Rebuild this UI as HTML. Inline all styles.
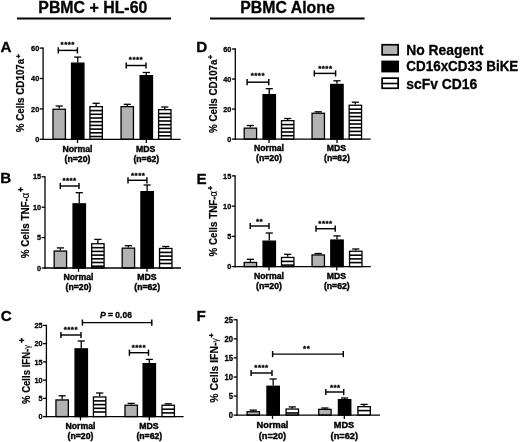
<!DOCTYPE html>
<html><head><meta charset="utf-8"><title>Figure</title>
<style>
html,body{margin:0;padding:0;background:#fff;}
svg{display:block;font-family:"Liberation Sans",sans-serif;}
text{stroke:#000;stroke-width:0.3px;}
</style></head>
<body>
<svg width="520" height="442" viewBox="0 0 520 442">
<rect width="520" height="442" fill="#fff"/>
<text x="92.8" y="12.5" font-size="15.8" text-anchor="middle" font-weight="bold" textLength="109" lengthAdjust="spacingAndGlyphs" >PBMC + HL-60</text>
<line x1="17" y1="18.4" x2="171" y2="18.4" stroke="#000" stroke-width="2" stroke-linecap="butt"/>
<text x="287.5" y="12.6" font-size="15.8" text-anchor="middle" font-weight="bold" textLength="94.5" lengthAdjust="spacingAndGlyphs" >PBMC Alone</text>
<line x1="210" y1="18.4" x2="364.6" y2="18.4" stroke="#000" stroke-width="2" stroke-linecap="butt"/>
<text x="0.6" y="52.2" font-size="15.2" text-anchor="start" font-weight="bold" >A</text>
<line x1="43.1" y1="47.45" x2="43.1" y2="139.95000000000002" stroke="#000" stroke-width="1.3" stroke-linecap="butt"/>
<line x1="39.7" y1="139.3" x2="43.1" y2="139.3" stroke="#000" stroke-width="1.3" stroke-linecap="butt"/>
<g transform="translate(39.2,141.95000000000002) scale(0.91,1)">
<text x="0" y="0" font-size="8.0" text-anchor="end" font-weight="bold" >0</text>
</g>
<line x1="39.7" y1="108.9" x2="43.1" y2="108.9" stroke="#000" stroke-width="1.3" stroke-linecap="butt"/>
<g transform="translate(39.2,111.55000000000001) scale(0.91,1)">
<text x="0" y="0" font-size="8.0" text-anchor="end" font-weight="bold" >20</text>
</g>
<line x1="39.7" y1="78.5" x2="43.1" y2="78.5" stroke="#000" stroke-width="1.3" stroke-linecap="butt"/>
<g transform="translate(39.2,81.15) scale(0.91,1)">
<text x="0" y="0" font-size="8.0" text-anchor="end" font-weight="bold" >40</text>
</g>
<line x1="39.7" y1="48.10000000000001" x2="43.1" y2="48.10000000000001" stroke="#000" stroke-width="1.3" stroke-linecap="butt"/>
<g transform="translate(39.2,50.75000000000001) scale(0.91,1)">
<text x="0" y="0" font-size="8.0" text-anchor="end" font-weight="bold" >60</text>
</g>
<g transform="translate(24.3,93.3) rotate(-90) scale(0.9000,1)">
<text x="0" y="0" font-size="10.9" text-anchor="middle" font-weight="bold" style="stroke-width:0.2px">% Cells CD107a<tspan dy="-3.7" dx="0.5" font-size="7.6" style="stroke-width:0.5px">+</tspan></text>
</g>
<line x1="59.2" y1="108.6" x2="59.2" y2="106" stroke="#000" stroke-width="1.3" stroke-linecap="butt"/>
<line x1="55.6" y1="106" x2="62.800000000000004" y2="106" stroke="#000" stroke-width="1.3" stroke-linecap="butt"/>
<rect x="53.00" y="109.25" width="12.40" height="30.05" fill="#b2b2b2" stroke="#000" stroke-width="1.3"/>
<line x1="77.75" y1="62.5" x2="77.75" y2="57.1" stroke="#000" stroke-width="1.3" stroke-linecap="butt"/>
<line x1="74.15" y1="57.1" x2="81.35" y2="57.1" stroke="#000" stroke-width="1.3" stroke-linecap="butt"/>
<rect x="71.55" y="63.15" width="12.40" height="76.15" fill="#000" stroke="#000" stroke-width="1.3"/>
<line x1="96.15" y1="106" x2="96.15" y2="103.3" stroke="#000" stroke-width="1.3" stroke-linecap="butt"/>
<line x1="92.55000000000001" y1="103.3" x2="99.75" y2="103.3" stroke="#000" stroke-width="1.3" stroke-linecap="butt"/>
<rect x="89.95" y="106.65" width="12.40" height="32.65" fill="#fff" stroke="#000" stroke-width="1.3"/>
<line x1="89.80000000000001" y1="110.6" x2="102.5" y2="110.6" stroke="#000" stroke-width="1.6" stroke-linecap="butt"/>
<line x1="89.80000000000001" y1="114.3" x2="102.5" y2="114.3" stroke="#000" stroke-width="1.6" stroke-linecap="butt"/>
<line x1="89.80000000000001" y1="118.0" x2="102.5" y2="118.0" stroke="#000" stroke-width="1.6" stroke-linecap="butt"/>
<line x1="89.80000000000001" y1="121.7" x2="102.5" y2="121.7" stroke="#000" stroke-width="1.6" stroke-linecap="butt"/>
<line x1="89.80000000000001" y1="125.4" x2="102.5" y2="125.4" stroke="#000" stroke-width="1.6" stroke-linecap="butt"/>
<line x1="89.80000000000001" y1="129.1" x2="102.5" y2="129.1" stroke="#000" stroke-width="1.6" stroke-linecap="butt"/>
<line x1="89.80000000000001" y1="132.79999999999998" x2="102.5" y2="132.79999999999998" stroke="#000" stroke-width="1.6" stroke-linecap="butt"/>
<line x1="89.80000000000001" y1="136.49999999999997" x2="102.5" y2="136.49999999999997" stroke="#000" stroke-width="1.6" stroke-linecap="butt"/>
<line x1="127.25" y1="106" x2="127.25" y2="104.3" stroke="#000" stroke-width="1.3" stroke-linecap="butt"/>
<line x1="123.65" y1="104.3" x2="130.85" y2="104.3" stroke="#000" stroke-width="1.3" stroke-linecap="butt"/>
<rect x="121.05" y="106.65" width="12.40" height="32.65" fill="#b2b2b2" stroke="#000" stroke-width="1.3"/>
<line x1="146.3" y1="75" x2="146.3" y2="72.5" stroke="#000" stroke-width="1.3" stroke-linecap="butt"/>
<line x1="142.70000000000002" y1="72.5" x2="149.9" y2="72.5" stroke="#000" stroke-width="1.3" stroke-linecap="butt"/>
<rect x="140.10" y="75.65" width="12.40" height="63.65" fill="#000" stroke="#000" stroke-width="1.3"/>
<line x1="164.8" y1="109" x2="164.8" y2="107" stroke="#000" stroke-width="1.3" stroke-linecap="butt"/>
<line x1="161.20000000000002" y1="107" x2="168.4" y2="107" stroke="#000" stroke-width="1.3" stroke-linecap="butt"/>
<rect x="158.60" y="109.65" width="12.40" height="29.65" fill="#fff" stroke="#000" stroke-width="1.3"/>
<line x1="158.45000000000002" y1="113.6" x2="171.15" y2="113.6" stroke="#000" stroke-width="1.6" stroke-linecap="butt"/>
<line x1="158.45000000000002" y1="117.3" x2="171.15" y2="117.3" stroke="#000" stroke-width="1.6" stroke-linecap="butt"/>
<line x1="158.45000000000002" y1="121.0" x2="171.15" y2="121.0" stroke="#000" stroke-width="1.6" stroke-linecap="butt"/>
<line x1="158.45000000000002" y1="124.7" x2="171.15" y2="124.7" stroke="#000" stroke-width="1.6" stroke-linecap="butt"/>
<line x1="158.45000000000002" y1="128.4" x2="171.15" y2="128.4" stroke="#000" stroke-width="1.6" stroke-linecap="butt"/>
<line x1="158.45000000000002" y1="132.1" x2="171.15" y2="132.1" stroke="#000" stroke-width="1.6" stroke-linecap="butt"/>
<line x1="158.45000000000002" y1="135.79999999999998" x2="171.15" y2="135.79999999999998" stroke="#000" stroke-width="1.6" stroke-linecap="butt"/>
<line x1="42.45" y1="139.3" x2="180.6" y2="139.3" stroke="#000" stroke-width="1.3" stroke-linecap="butt"/>
<line x1="77.5" y1="139.3" x2="77.5" y2="143.10000000000002" stroke="#000" stroke-width="1.3" stroke-linecap="butt"/>
<text x="77.5" y="151.5" font-size="8.7" text-anchor="middle" font-weight="bold" style="stroke-width:0.4px">Normal</text>
<text x="77.5" y="161.60000000000002" font-size="8.7" text-anchor="middle" font-weight="bold" style="stroke-width:0.4px">(n=20)</text>
<line x1="146.3" y1="139.3" x2="146.3" y2="143.10000000000002" stroke="#000" stroke-width="1.3" stroke-linecap="butt"/>
<text x="145.6" y="151.5" font-size="8.7" text-anchor="middle" font-weight="bold" style="stroke-width:0.4px">MDS</text>
<text x="146.3" y="161.60000000000002" font-size="8.7" text-anchor="middle" font-weight="bold" style="stroke-width:0.4px">(n=62)</text>
<line x1="58.3" y1="50.4" x2="77.4" y2="50.4" stroke="#000" stroke-width="1.45" stroke-linecap="butt"/>
<line x1="58.3" y1="47.3" x2="58.3" y2="53.5" stroke="#000" stroke-width="1.45" stroke-linecap="butt"/>
<line x1="77.4" y1="47.3" x2="77.4" y2="53.5" stroke="#000" stroke-width="1.45" stroke-linecap="butt"/>
<text x="67.75" y="47.0" font-size="8" text-anchor="middle" font-weight="bold" letter-spacing="0.45" style="stroke-width:0.35px">****</text>
<line x1="126.2" y1="65.5" x2="146" y2="65.5" stroke="#000" stroke-width="1.45" stroke-linecap="butt"/>
<line x1="126.2" y1="62.4" x2="126.2" y2="68.6" stroke="#000" stroke-width="1.45" stroke-linecap="butt"/>
<line x1="146" y1="62.4" x2="146" y2="68.6" stroke="#000" stroke-width="1.45" stroke-linecap="butt"/>
<text x="136.0" y="61.6" font-size="8" text-anchor="middle" font-weight="bold" letter-spacing="0.45" style="stroke-width:0.35px">****</text>
<text x="0.2" y="183.0" font-size="15.2" text-anchor="start" font-weight="bold" >B</text>
<line x1="45" y1="176.15" x2="45" y2="268.65" stroke="#000" stroke-width="1.3" stroke-linecap="butt"/>
<line x1="41.6" y1="268.0" x2="45" y2="268.0" stroke="#000" stroke-width="1.3" stroke-linecap="butt"/>
<g transform="translate(41.1,270.65) scale(0.91,1)">
<text x="0" y="0" font-size="8.0" text-anchor="end" font-weight="bold" >0</text>
</g>
<line x1="41.6" y1="237.6" x2="45" y2="237.6" stroke="#000" stroke-width="1.3" stroke-linecap="butt"/>
<g transform="translate(41.1,240.25) scale(0.91,1)">
<text x="0" y="0" font-size="8.0" text-anchor="end" font-weight="bold" >5</text>
</g>
<line x1="41.6" y1="207.20000000000002" x2="45" y2="207.20000000000002" stroke="#000" stroke-width="1.3" stroke-linecap="butt"/>
<g transform="translate(41.1,209.85000000000002) scale(0.91,1)">
<text x="0" y="0" font-size="8.0" text-anchor="end" font-weight="bold" >10</text>
</g>
<line x1="41.6" y1="176.8" x2="45" y2="176.8" stroke="#000" stroke-width="1.3" stroke-linecap="butt"/>
<g transform="translate(41.1,179.45000000000002) scale(0.91,1)">
<text x="0" y="0" font-size="8.0" text-anchor="end" font-weight="bold" >15</text>
</g>
<g transform="translate(28.5,222.6) rotate(-90) scale(0.9000,1)">
<text x="0" y="0" font-size="10.9" text-anchor="middle" font-weight="bold" style="stroke-width:0.2px">% Cells TNF-<tspan font-weight="normal" font-size="10.6" style="stroke-width:0.1px">α</tspan><tspan dy="-4.8" dx="0.9" font-size="9.3" style="stroke-width:0.5px">+</tspan></text>
</g>
<line x1="60.375" y1="250.4" x2="60.375" y2="247.9" stroke="#000" stroke-width="1.3" stroke-linecap="butt"/>
<line x1="56.775" y1="247.9" x2="63.975" y2="247.9" stroke="#000" stroke-width="1.3" stroke-linecap="butt"/>
<rect x="54.17" y="251.05" width="12.40" height="16.95" fill="#b2b2b2" stroke="#000" stroke-width="1.3"/>
<line x1="79.25" y1="203.2" x2="79.25" y2="192.7" stroke="#000" stroke-width="1.3" stroke-linecap="butt"/>
<line x1="75.65" y1="192.7" x2="82.85" y2="192.7" stroke="#000" stroke-width="1.3" stroke-linecap="butt"/>
<rect x="73.05" y="203.85" width="12.40" height="64.15" fill="#000" stroke="#000" stroke-width="1.3"/>
<line x1="97.875" y1="243.1" x2="97.875" y2="239.4" stroke="#000" stroke-width="1.3" stroke-linecap="butt"/>
<line x1="94.275" y1="239.4" x2="101.475" y2="239.4" stroke="#000" stroke-width="1.3" stroke-linecap="butt"/>
<rect x="91.68" y="243.75" width="12.40" height="24.25" fill="#fff" stroke="#000" stroke-width="1.3"/>
<line x1="91.525" y1="247.7" x2="104.225" y2="247.7" stroke="#000" stroke-width="1.6" stroke-linecap="butt"/>
<line x1="91.525" y1="251.39999999999998" x2="104.225" y2="251.39999999999998" stroke="#000" stroke-width="1.6" stroke-linecap="butt"/>
<line x1="91.525" y1="255.09999999999997" x2="104.225" y2="255.09999999999997" stroke="#000" stroke-width="1.6" stroke-linecap="butt"/>
<line x1="91.525" y1="258.79999999999995" x2="104.225" y2="258.79999999999995" stroke="#000" stroke-width="1.6" stroke-linecap="butt"/>
<line x1="91.525" y1="262.49999999999994" x2="104.225" y2="262.49999999999994" stroke="#000" stroke-width="1.6" stroke-linecap="butt"/>
<line x1="91.525" y1="266.19999999999993" x2="104.225" y2="266.19999999999993" stroke="#000" stroke-width="1.6" stroke-linecap="butt"/>
<line x1="128.375" y1="247.5" x2="128.375" y2="245.7" stroke="#000" stroke-width="1.3" stroke-linecap="butt"/>
<line x1="124.775" y1="245.7" x2="131.975" y2="245.7" stroke="#000" stroke-width="1.3" stroke-linecap="butt"/>
<rect x="122.18" y="248.15" width="12.40" height="19.85" fill="#b2b2b2" stroke="#000" stroke-width="1.3"/>
<line x1="147.125" y1="191" x2="147.125" y2="185" stroke="#000" stroke-width="1.3" stroke-linecap="butt"/>
<line x1="143.525" y1="185" x2="150.725" y2="185" stroke="#000" stroke-width="1.3" stroke-linecap="butt"/>
<rect x="140.93" y="191.65" width="12.40" height="76.35" fill="#000" stroke="#000" stroke-width="1.3"/>
<line x1="165.75" y1="247.8" x2="165.75" y2="246.5" stroke="#000" stroke-width="1.3" stroke-linecap="butt"/>
<line x1="162.15" y1="246.5" x2="169.35" y2="246.5" stroke="#000" stroke-width="1.3" stroke-linecap="butt"/>
<rect x="159.55" y="248.45" width="12.40" height="19.55" fill="#fff" stroke="#000" stroke-width="1.3"/>
<line x1="159.4" y1="252.4" x2="172.1" y2="252.4" stroke="#000" stroke-width="1.6" stroke-linecap="butt"/>
<line x1="159.4" y1="256.1" x2="172.1" y2="256.1" stroke="#000" stroke-width="1.6" stroke-linecap="butt"/>
<line x1="159.4" y1="259.8" x2="172.1" y2="259.8" stroke="#000" stroke-width="1.6" stroke-linecap="butt"/>
<line x1="159.4" y1="263.5" x2="172.1" y2="263.5" stroke="#000" stroke-width="1.6" stroke-linecap="butt"/>
<line x1="44.35" y1="268.0" x2="181" y2="268.0" stroke="#000" stroke-width="1.3" stroke-linecap="butt"/>
<line x1="78.5" y1="268.0" x2="78.5" y2="271.8" stroke="#000" stroke-width="1.3" stroke-linecap="butt"/>
<text x="78.5" y="280.2" font-size="8.7" text-anchor="middle" font-weight="bold" style="stroke-width:0.4px">Normal</text>
<text x="78.5" y="290.3" font-size="8.7" text-anchor="middle" font-weight="bold" style="stroke-width:0.4px">(n=20)</text>
<line x1="147" y1="268.0" x2="147" y2="271.8" stroke="#000" stroke-width="1.3" stroke-linecap="butt"/>
<text x="146.8" y="280.2" font-size="8.7" text-anchor="middle" font-weight="bold" style="stroke-width:0.4px">MDS</text>
<text x="147.2" y="290.3" font-size="8.7" text-anchor="middle" font-weight="bold" style="stroke-width:0.4px">(n=62)</text>
<line x1="60.3" y1="186" x2="79" y2="186" stroke="#000" stroke-width="1.45" stroke-linecap="butt"/>
<line x1="60.3" y1="182.9" x2="60.3" y2="189.1" stroke="#000" stroke-width="1.45" stroke-linecap="butt"/>
<line x1="79" y1="182.9" x2="79" y2="189.1" stroke="#000" stroke-width="1.45" stroke-linecap="butt"/>
<text x="69.55000000000001" y="182.9" font-size="8" text-anchor="middle" font-weight="bold" letter-spacing="0.45" style="stroke-width:0.35px">****</text>
<line x1="128" y1="180.3" x2="146.9" y2="180.3" stroke="#000" stroke-width="1.45" stroke-linecap="butt"/>
<line x1="128" y1="177.20000000000002" x2="128" y2="183.4" stroke="#000" stroke-width="1.45" stroke-linecap="butt"/>
<line x1="146.9" y1="177.20000000000002" x2="146.9" y2="183.4" stroke="#000" stroke-width="1.45" stroke-linecap="butt"/>
<text x="138.15" y="177.9" font-size="8" text-anchor="middle" font-weight="bold" letter-spacing="0.45" style="stroke-width:0.35px">****</text>
<text x="0.8" y="320.8" font-size="15.2" text-anchor="start" font-weight="bold" >C</text>
<line x1="46.4" y1="324.75" x2="46.4" y2="417.25" stroke="#000" stroke-width="1.3" stroke-linecap="butt"/>
<line x1="43.0" y1="416.6" x2="46.4" y2="416.6" stroke="#000" stroke-width="1.3" stroke-linecap="butt"/>
<g transform="translate(42.5,419.25) scale(0.91,1)">
<text x="0" y="0" font-size="8.0" text-anchor="end" font-weight="bold" >0</text>
</g>
<line x1="43.0" y1="398.36" x2="46.4" y2="398.36" stroke="#000" stroke-width="1.3" stroke-linecap="butt"/>
<g transform="translate(42.5,401.01) scale(0.91,1)">
<text x="0" y="0" font-size="8.0" text-anchor="end" font-weight="bold" >5</text>
</g>
<line x1="43.0" y1="380.12" x2="46.4" y2="380.12" stroke="#000" stroke-width="1.3" stroke-linecap="butt"/>
<g transform="translate(42.5,382.77) scale(0.91,1)">
<text x="0" y="0" font-size="8.0" text-anchor="end" font-weight="bold" >10</text>
</g>
<line x1="43.0" y1="361.88" x2="46.4" y2="361.88" stroke="#000" stroke-width="1.3" stroke-linecap="butt"/>
<g transform="translate(42.5,364.53) scale(0.91,1)">
<text x="0" y="0" font-size="8.0" text-anchor="end" font-weight="bold" >15</text>
</g>
<line x1="43.0" y1="343.64" x2="46.4" y2="343.64" stroke="#000" stroke-width="1.3" stroke-linecap="butt"/>
<g transform="translate(42.5,346.28999999999996) scale(0.91,1)">
<text x="0" y="0" font-size="8.0" text-anchor="end" font-weight="bold" >20</text>
</g>
<line x1="43.0" y1="325.4" x2="46.4" y2="325.4" stroke="#000" stroke-width="1.3" stroke-linecap="butt"/>
<g transform="translate(42.5,328.04999999999995) scale(0.91,1)">
<text x="0" y="0" font-size="8.0" text-anchor="end" font-weight="bold" >25</text>
</g>
<g transform="translate(29.9,371.0) rotate(-90) scale(0.8775,1)">
<text x="0" y="0" font-size="10.9" text-anchor="middle" font-weight="bold" style="stroke-width:0.2px">% Cells IFN-<tspan font-weight="normal" font-size="8.5" style="stroke-width:0.1px">γ</tspan><tspan dy="-5.4" dx="2.6" font-size="9.3" style="stroke-width:0.5px">+</tspan></text>
</g>
<line x1="62.15" y1="399.3" x2="62.15" y2="395.8" stroke="#000" stroke-width="1.3" stroke-linecap="butt"/>
<line x1="58.55" y1="395.8" x2="65.75" y2="395.8" stroke="#000" stroke-width="1.3" stroke-linecap="butt"/>
<rect x="55.95" y="399.95" width="12.40" height="16.65" fill="#b2b2b2" stroke="#000" stroke-width="1.3"/>
<line x1="81.25" y1="348.2" x2="81.25" y2="341" stroke="#000" stroke-width="1.3" stroke-linecap="butt"/>
<line x1="77.65" y1="341" x2="84.85" y2="341" stroke="#000" stroke-width="1.3" stroke-linecap="butt"/>
<rect x="75.05" y="348.85" width="12.40" height="67.75" fill="#000" stroke="#000" stroke-width="1.3"/>
<line x1="99.65" y1="396.3" x2="99.65" y2="393" stroke="#000" stroke-width="1.3" stroke-linecap="butt"/>
<line x1="96.05000000000001" y1="393" x2="103.25" y2="393" stroke="#000" stroke-width="1.3" stroke-linecap="butt"/>
<rect x="93.45" y="396.95" width="12.40" height="19.65" fill="#fff" stroke="#000" stroke-width="1.3"/>
<line x1="93.30000000000001" y1="400.90000000000003" x2="106.0" y2="400.90000000000003" stroke="#000" stroke-width="1.6" stroke-linecap="butt"/>
<line x1="93.30000000000001" y1="404.6" x2="106.0" y2="404.6" stroke="#000" stroke-width="1.6" stroke-linecap="butt"/>
<line x1="93.30000000000001" y1="408.3" x2="106.0" y2="408.3" stroke="#000" stroke-width="1.6" stroke-linecap="butt"/>
<line x1="93.30000000000001" y1="412.0" x2="106.0" y2="412.0" stroke="#000" stroke-width="1.6" stroke-linecap="butt"/>
<line x1="131.2" y1="404.6" x2="131.2" y2="403.4" stroke="#000" stroke-width="1.3" stroke-linecap="butt"/>
<line x1="127.6" y1="403.4" x2="134.79999999999998" y2="403.4" stroke="#000" stroke-width="1.3" stroke-linecap="butt"/>
<rect x="125.00" y="405.25" width="12.40" height="11.35" fill="#b2b2b2" stroke="#000" stroke-width="1.3"/>
<line x1="149.3" y1="363" x2="149.3" y2="359.4" stroke="#000" stroke-width="1.3" stroke-linecap="butt"/>
<line x1="145.70000000000002" y1="359.4" x2="152.9" y2="359.4" stroke="#000" stroke-width="1.3" stroke-linecap="butt"/>
<rect x="143.10" y="363.65" width="12.40" height="52.95" fill="#000" stroke="#000" stroke-width="1.3"/>
<line x1="168.2" y1="404.6" x2="168.2" y2="403.8" stroke="#000" stroke-width="1.3" stroke-linecap="butt"/>
<line x1="164.6" y1="403.8" x2="171.79999999999998" y2="403.8" stroke="#000" stroke-width="1.3" stroke-linecap="butt"/>
<rect x="162.00" y="405.25" width="12.40" height="11.35" fill="#fff" stroke="#000" stroke-width="1.3"/>
<line x1="161.85" y1="409.20000000000005" x2="174.54999999999998" y2="409.20000000000005" stroke="#000" stroke-width="1.6" stroke-linecap="butt"/>
<line x1="161.85" y1="412.90000000000003" x2="174.54999999999998" y2="412.90000000000003" stroke="#000" stroke-width="1.6" stroke-linecap="butt"/>
<line x1="45.75" y1="416.6" x2="183.6" y2="416.6" stroke="#000" stroke-width="1.3" stroke-linecap="butt"/>
<line x1="80.5" y1="416.6" x2="80.5" y2="420.40000000000003" stroke="#000" stroke-width="1.3" stroke-linecap="butt"/>
<text x="80.5" y="428.8" font-size="8.7" text-anchor="middle" font-weight="bold" style="stroke-width:0.4px">Normal</text>
<text x="80.5" y="438.90000000000003" font-size="8.7" text-anchor="middle" font-weight="bold" style="stroke-width:0.4px">(n=20)</text>
<line x1="149.3" y1="416.6" x2="149.3" y2="420.40000000000003" stroke="#000" stroke-width="1.3" stroke-linecap="butt"/>
<text x="149" y="428.8" font-size="8.7" text-anchor="middle" font-weight="bold" style="stroke-width:0.4px">MDS</text>
<text x="149.3" y="438.90000000000003" font-size="8.7" text-anchor="middle" font-weight="bold" style="stroke-width:0.4px">(n=62)</text>
<line x1="60.9" y1="335" x2="81" y2="335" stroke="#000" stroke-width="1.45" stroke-linecap="butt"/>
<line x1="60.9" y1="331.9" x2="60.9" y2="338.1" stroke="#000" stroke-width="1.45" stroke-linecap="butt"/>
<line x1="81" y1="331.9" x2="81" y2="338.1" stroke="#000" stroke-width="1.45" stroke-linecap="butt"/>
<text x="70.85000000000001" y="331.9" font-size="8" text-anchor="middle" font-weight="bold" letter-spacing="0.45" style="stroke-width:0.35px">****</text>
<line x1="129.4" y1="352.7" x2="148.5" y2="352.7" stroke="#000" stroke-width="1.45" stroke-linecap="butt"/>
<line x1="129.4" y1="349.59999999999997" x2="129.4" y2="355.8" stroke="#000" stroke-width="1.45" stroke-linecap="butt"/>
<line x1="148.5" y1="349.59999999999997" x2="148.5" y2="355.8" stroke="#000" stroke-width="1.45" stroke-linecap="butt"/>
<text x="138.85" y="349.5" font-size="8" text-anchor="middle" font-weight="bold" letter-spacing="0.45" style="stroke-width:0.35px">****</text>
<line x1="82.4" y1="322.6" x2="151.8" y2="322.6" stroke="#000" stroke-width="1.45" stroke-linecap="butt"/>
<line x1="82.4" y1="319.5" x2="82.4" y2="325.70000000000005" stroke="#000" stroke-width="1.45" stroke-linecap="butt"/>
<line x1="151.8" y1="319.5" x2="151.8" y2="325.70000000000005" stroke="#000" stroke-width="1.45" stroke-linecap="butt"/>
<text x="100" y="317.5" font-size="8.5" font-weight="bold"><tspan font-style="italic">P</tspan> = 0.06</text>
<text x="196.3" y="52.1" font-size="15.2" text-anchor="start" font-weight="bold" >D</text>
<line x1="235.3" y1="48.35" x2="235.3" y2="139.75" stroke="#000" stroke-width="1.3" stroke-linecap="butt"/>
<line x1="231.9" y1="139.1" x2="235.3" y2="139.1" stroke="#000" stroke-width="1.3" stroke-linecap="butt"/>
<g transform="translate(231.4,141.75) scale(0.91,1)">
<text x="0" y="0" font-size="8.0" text-anchor="end" font-weight="bold" >0</text>
</g>
<line x1="231.9" y1="109.06666666666666" x2="235.3" y2="109.06666666666666" stroke="#000" stroke-width="1.3" stroke-linecap="butt"/>
<g transform="translate(231.4,111.71666666666667) scale(0.91,1)">
<text x="0" y="0" font-size="8.0" text-anchor="end" font-weight="bold" >20</text>
</g>
<line x1="231.9" y1="79.03333333333333" x2="235.3" y2="79.03333333333333" stroke="#000" stroke-width="1.3" stroke-linecap="butt"/>
<g transform="translate(231.4,81.68333333333334) scale(0.91,1)">
<text x="0" y="0" font-size="8.0" text-anchor="end" font-weight="bold" >40</text>
</g>
<line x1="231.9" y1="49.000000000000014" x2="235.3" y2="49.000000000000014" stroke="#000" stroke-width="1.3" stroke-linecap="butt"/>
<g transform="translate(231.4,51.65000000000001) scale(0.91,1)">
<text x="0" y="0" font-size="8.0" text-anchor="end" font-weight="bold" >60</text>
</g>
<g transform="translate(216.8,94.05) rotate(-90) scale(0.9000,1)">
<text x="0" y="0" font-size="10.9" text-anchor="middle" font-weight="bold" style="stroke-width:0.2px">% Cells CD107a<tspan dy="-3.7" dx="0.5" font-size="7.6" style="stroke-width:0.5px">+</tspan></text>
</g>
<line x1="250.4" y1="127.5" x2="250.4" y2="125.5" stroke="#000" stroke-width="1.3" stroke-linecap="butt"/>
<line x1="246.8" y1="125.5" x2="254.0" y2="125.5" stroke="#000" stroke-width="1.3" stroke-linecap="butt"/>
<rect x="244.20" y="128.15" width="12.40" height="10.95" fill="#b2b2b2" stroke="#000" stroke-width="1.3"/>
<line x1="269.25" y1="94" x2="269.25" y2="88.7" stroke="#000" stroke-width="1.3" stroke-linecap="butt"/>
<line x1="265.65" y1="88.7" x2="272.85" y2="88.7" stroke="#000" stroke-width="1.3" stroke-linecap="butt"/>
<rect x="263.05" y="94.65" width="12.40" height="44.45" fill="#000" stroke="#000" stroke-width="1.3"/>
<line x1="287.7" y1="120" x2="287.7" y2="118.5" stroke="#000" stroke-width="1.3" stroke-linecap="butt"/>
<line x1="284.09999999999997" y1="118.5" x2="291.3" y2="118.5" stroke="#000" stroke-width="1.3" stroke-linecap="butt"/>
<rect x="281.50" y="120.65" width="12.40" height="18.45" fill="#fff" stroke="#000" stroke-width="1.3"/>
<line x1="281.34999999999997" y1="124.6" x2="294.05" y2="124.6" stroke="#000" stroke-width="1.6" stroke-linecap="butt"/>
<line x1="281.34999999999997" y1="128.29999999999998" x2="294.05" y2="128.29999999999998" stroke="#000" stroke-width="1.6" stroke-linecap="butt"/>
<line x1="281.34999999999997" y1="131.99999999999997" x2="294.05" y2="131.99999999999997" stroke="#000" stroke-width="1.6" stroke-linecap="butt"/>
<line x1="281.34999999999997" y1="135.69999999999996" x2="294.05" y2="135.69999999999996" stroke="#000" stroke-width="1.6" stroke-linecap="butt"/>
<line x1="318.25" y1="112.6" x2="318.25" y2="111.8" stroke="#000" stroke-width="1.3" stroke-linecap="butt"/>
<line x1="314.65" y1="111.8" x2="321.85" y2="111.8" stroke="#000" stroke-width="1.3" stroke-linecap="butt"/>
<rect x="312.05" y="113.25" width="12.40" height="25.85" fill="#b2b2b2" stroke="#000" stroke-width="1.3"/>
<line x1="336.9" y1="83.8" x2="336.9" y2="80.8" stroke="#000" stroke-width="1.3" stroke-linecap="butt"/>
<line x1="333.29999999999995" y1="80.8" x2="340.5" y2="80.8" stroke="#000" stroke-width="1.3" stroke-linecap="butt"/>
<rect x="330.70" y="84.45" width="12.40" height="54.65" fill="#000" stroke="#000" stroke-width="1.3"/>
<line x1="355.35" y1="104.6" x2="355.35" y2="102.2" stroke="#000" stroke-width="1.3" stroke-linecap="butt"/>
<line x1="351.75" y1="102.2" x2="358.95000000000005" y2="102.2" stroke="#000" stroke-width="1.3" stroke-linecap="butt"/>
<rect x="349.15" y="105.25" width="12.40" height="33.85" fill="#fff" stroke="#000" stroke-width="1.3"/>
<line x1="349.0" y1="109.19999999999999" x2="361.70000000000005" y2="109.19999999999999" stroke="#000" stroke-width="1.6" stroke-linecap="butt"/>
<line x1="349.0" y1="112.89999999999999" x2="361.70000000000005" y2="112.89999999999999" stroke="#000" stroke-width="1.6" stroke-linecap="butt"/>
<line x1="349.0" y1="116.6" x2="361.70000000000005" y2="116.6" stroke="#000" stroke-width="1.6" stroke-linecap="butt"/>
<line x1="349.0" y1="120.3" x2="361.70000000000005" y2="120.3" stroke="#000" stroke-width="1.6" stroke-linecap="butt"/>
<line x1="349.0" y1="124.0" x2="361.70000000000005" y2="124.0" stroke="#000" stroke-width="1.6" stroke-linecap="butt"/>
<line x1="349.0" y1="127.7" x2="361.70000000000005" y2="127.7" stroke="#000" stroke-width="1.6" stroke-linecap="butt"/>
<line x1="349.0" y1="131.4" x2="361.70000000000005" y2="131.4" stroke="#000" stroke-width="1.6" stroke-linecap="butt"/>
<line x1="349.0" y1="135.1" x2="361.70000000000005" y2="135.1" stroke="#000" stroke-width="1.6" stroke-linecap="butt"/>
<line x1="234.65" y1="139.1" x2="370.6" y2="139.1" stroke="#000" stroke-width="1.3" stroke-linecap="butt"/>
<line x1="269" y1="139.1" x2="269" y2="142.9" stroke="#000" stroke-width="1.3" stroke-linecap="butt"/>
<text x="269" y="151.29999999999998" font-size="8.7" text-anchor="middle" font-weight="bold" style="stroke-width:0.4px">Normal</text>
<text x="269" y="161.4" font-size="8.7" text-anchor="middle" font-weight="bold" style="stroke-width:0.4px">(n=20)</text>
<line x1="337" y1="139.1" x2="337" y2="142.9" stroke="#000" stroke-width="1.3" stroke-linecap="butt"/>
<text x="336.5" y="151.29999999999998" font-size="8.7" text-anchor="middle" font-weight="bold" style="stroke-width:0.4px">MDS</text>
<text x="337" y="161.4" font-size="8.7" text-anchor="middle" font-weight="bold" style="stroke-width:0.4px">(n=62)</text>
<line x1="247.1" y1="82.2" x2="268.8" y2="82.2" stroke="#000" stroke-width="1.45" stroke-linecap="butt"/>
<line x1="247.1" y1="79.10000000000001" x2="247.1" y2="85.3" stroke="#000" stroke-width="1.45" stroke-linecap="butt"/>
<line x1="268.8" y1="79.10000000000001" x2="268.8" y2="85.3" stroke="#000" stroke-width="1.45" stroke-linecap="butt"/>
<text x="257.84999999999997" y="78.25" font-size="8" text-anchor="middle" font-weight="bold" letter-spacing="0.45" style="stroke-width:0.35px">****</text>
<line x1="314.3" y1="73.4" x2="335.6" y2="73.4" stroke="#000" stroke-width="1.45" stroke-linecap="butt"/>
<line x1="314.3" y1="70.30000000000001" x2="314.3" y2="76.5" stroke="#000" stroke-width="1.45" stroke-linecap="butt"/>
<line x1="335.6" y1="70.30000000000001" x2="335.6" y2="76.5" stroke="#000" stroke-width="1.45" stroke-linecap="butt"/>
<text x="325.35" y="70.75" font-size="8" text-anchor="middle" font-weight="bold" letter-spacing="0.45" style="stroke-width:0.35px">****</text>
<text x="196.5" y="183.5" font-size="15.2" text-anchor="start" font-weight="bold" >E</text>
<line x1="235.1" y1="175.25" x2="235.1" y2="267.25" stroke="#000" stroke-width="1.3" stroke-linecap="butt"/>
<line x1="231.7" y1="266.6" x2="235.1" y2="266.6" stroke="#000" stroke-width="1.3" stroke-linecap="butt"/>
<g transform="translate(231.2,269.25) scale(0.91,1)">
<text x="0" y="0" font-size="8.0" text-anchor="end" font-weight="bold" >0</text>
</g>
<line x1="231.7" y1="236.36666666666667" x2="235.1" y2="236.36666666666667" stroke="#000" stroke-width="1.3" stroke-linecap="butt"/>
<g transform="translate(231.2,239.01666666666668) scale(0.91,1)">
<text x="0" y="0" font-size="8.0" text-anchor="end" font-weight="bold" >5</text>
</g>
<line x1="231.7" y1="206.13333333333335" x2="235.1" y2="206.13333333333335" stroke="#000" stroke-width="1.3" stroke-linecap="butt"/>
<g transform="translate(231.2,208.78333333333336) scale(0.91,1)">
<text x="0" y="0" font-size="8.0" text-anchor="end" font-weight="bold" >10</text>
</g>
<line x1="231.7" y1="175.90000000000003" x2="235.1" y2="175.90000000000003" stroke="#000" stroke-width="1.3" stroke-linecap="butt"/>
<g transform="translate(231.2,178.55000000000004) scale(0.91,1)">
<text x="0" y="0" font-size="8.0" text-anchor="end" font-weight="bold" >15</text>
</g>
<g transform="translate(216.8,221.25) rotate(-90) scale(0.9000,1)">
<text x="0" y="0" font-size="10.9" text-anchor="middle" font-weight="bold" style="stroke-width:0.2px">% Cells TNF-<tspan font-weight="normal" font-size="10.6" style="stroke-width:0.1px">α</tspan><tspan dy="-3.7" dx="0.9" font-size="7.8" style="stroke-width:0.5px">+</tspan></text>
</g>
<line x1="250.4" y1="261.8" x2="250.4" y2="259.3" stroke="#000" stroke-width="1.3" stroke-linecap="butt"/>
<line x1="246.8" y1="259.3" x2="254.0" y2="259.3" stroke="#000" stroke-width="1.3" stroke-linecap="butt"/>
<rect x="244.20" y="262.45" width="12.40" height="4.15" fill="#b2b2b2" stroke="#000" stroke-width="1.3"/>
<line x1="269.25" y1="240.5" x2="269.25" y2="233" stroke="#000" stroke-width="1.3" stroke-linecap="butt"/>
<line x1="265.65" y1="233" x2="272.85" y2="233" stroke="#000" stroke-width="1.3" stroke-linecap="butt"/>
<rect x="263.05" y="241.15" width="12.40" height="25.45" fill="#000" stroke="#000" stroke-width="1.3"/>
<line x1="287.7" y1="256.8" x2="287.7" y2="254.3" stroke="#000" stroke-width="1.3" stroke-linecap="butt"/>
<line x1="284.09999999999997" y1="254.3" x2="291.3" y2="254.3" stroke="#000" stroke-width="1.3" stroke-linecap="butt"/>
<rect x="281.50" y="257.45" width="12.40" height="9.15" fill="#fff" stroke="#000" stroke-width="1.3"/>
<line x1="281.34999999999997" y1="261.40000000000003" x2="294.05" y2="261.40000000000003" stroke="#000" stroke-width="1.6" stroke-linecap="butt"/>
<line x1="281.34999999999997" y1="265.1" x2="294.05" y2="265.1" stroke="#000" stroke-width="1.6" stroke-linecap="butt"/>
<line x1="318.25" y1="254.3" x2="318.25" y2="253.5" stroke="#000" stroke-width="1.3" stroke-linecap="butt"/>
<line x1="314.65" y1="253.5" x2="321.85" y2="253.5" stroke="#000" stroke-width="1.3" stroke-linecap="butt"/>
<rect x="312.05" y="254.95" width="12.40" height="11.65" fill="#b2b2b2" stroke="#000" stroke-width="1.3"/>
<line x1="337.0" y1="239.4" x2="337.0" y2="235.9" stroke="#000" stroke-width="1.3" stroke-linecap="butt"/>
<line x1="333.4" y1="235.9" x2="340.6" y2="235.9" stroke="#000" stroke-width="1.3" stroke-linecap="butt"/>
<rect x="330.80" y="240.05" width="12.40" height="26.55" fill="#000" stroke="#000" stroke-width="1.3"/>
<line x1="355.75" y1="250.6" x2="355.75" y2="249" stroke="#000" stroke-width="1.3" stroke-linecap="butt"/>
<line x1="352.15" y1="249" x2="359.35" y2="249" stroke="#000" stroke-width="1.3" stroke-linecap="butt"/>
<rect x="349.55" y="251.25" width="12.40" height="15.35" fill="#fff" stroke="#000" stroke-width="1.3"/>
<line x1="349.4" y1="255.2" x2="362.1" y2="255.2" stroke="#000" stroke-width="1.6" stroke-linecap="butt"/>
<line x1="349.4" y1="258.9" x2="362.1" y2="258.9" stroke="#000" stroke-width="1.6" stroke-linecap="butt"/>
<line x1="349.4" y1="262.59999999999997" x2="362.1" y2="262.59999999999997" stroke="#000" stroke-width="1.6" stroke-linecap="butt"/>
<line x1="234.45" y1="266.6" x2="370.8" y2="266.6" stroke="#000" stroke-width="1.3" stroke-linecap="butt"/>
<line x1="269" y1="266.6" x2="269" y2="270.40000000000003" stroke="#000" stroke-width="1.3" stroke-linecap="butt"/>
<text x="269" y="278.8" font-size="8.7" text-anchor="middle" font-weight="bold" style="stroke-width:0.4px">Normal</text>
<text x="269" y="288.90000000000003" font-size="8.7" text-anchor="middle" font-weight="bold" style="stroke-width:0.4px">(n=20)</text>
<line x1="336.8" y1="266.6" x2="336.8" y2="270.40000000000003" stroke="#000" stroke-width="1.3" stroke-linecap="butt"/>
<text x="336.5" y="278.8" font-size="8.7" text-anchor="middle" font-weight="bold" style="stroke-width:0.4px">MDS</text>
<text x="336.8" y="288.90000000000003" font-size="8.7" text-anchor="middle" font-weight="bold" style="stroke-width:0.4px">(n=62)</text>
<line x1="250.2" y1="226" x2="269" y2="226" stroke="#000" stroke-width="1.45" stroke-linecap="butt"/>
<line x1="250.2" y1="222.9" x2="250.2" y2="229.1" stroke="#000" stroke-width="1.45" stroke-linecap="butt"/>
<line x1="269" y1="222.9" x2="269" y2="229.1" stroke="#000" stroke-width="1.45" stroke-linecap="butt"/>
<text x="259.5" y="223.5" font-size="8" text-anchor="middle" font-weight="bold" letter-spacing="0.45" style="stroke-width:0.35px">**</text>
<line x1="316" y1="228.7" x2="335.2" y2="228.7" stroke="#000" stroke-width="1.45" stroke-linecap="butt"/>
<line x1="316" y1="225.6" x2="316" y2="231.79999999999998" stroke="#000" stroke-width="1.45" stroke-linecap="butt"/>
<line x1="335.2" y1="225.6" x2="335.2" y2="231.79999999999998" stroke="#000" stroke-width="1.45" stroke-linecap="butt"/>
<text x="325.5" y="226.0" font-size="8" text-anchor="middle" font-weight="bold" letter-spacing="0.45" style="stroke-width:0.35px">****</text>
<text x="196.4" y="321.2" font-size="15.2" text-anchor="start" font-weight="bold" >F</text>
<line x1="237" y1="319.15000000000003" x2="237" y2="415.75" stroke="#000" stroke-width="1.3" stroke-linecap="butt"/>
<line x1="233.6" y1="415.1" x2="237" y2="415.1" stroke="#000" stroke-width="1.3" stroke-linecap="butt"/>
<g transform="translate(233.1,417.90900000000005) scale(0.91,1)">
<text x="0" y="0" font-size="8.48" text-anchor="end" font-weight="bold" >0</text>
</g>
<line x1="233.6" y1="396.04" x2="237" y2="396.04" stroke="#000" stroke-width="1.3" stroke-linecap="butt"/>
<g transform="translate(233.1,398.84900000000005) scale(0.91,1)">
<text x="0" y="0" font-size="8.48" text-anchor="end" font-weight="bold" >5</text>
</g>
<line x1="233.6" y1="376.98" x2="237" y2="376.98" stroke="#000" stroke-width="1.3" stroke-linecap="butt"/>
<g transform="translate(233.1,379.78900000000004) scale(0.91,1)">
<text x="0" y="0" font-size="8.48" text-anchor="end" font-weight="bold" >10</text>
</g>
<line x1="233.6" y1="357.92" x2="237" y2="357.92" stroke="#000" stroke-width="1.3" stroke-linecap="butt"/>
<g transform="translate(233.1,360.72900000000004) scale(0.91,1)">
<text x="0" y="0" font-size="8.48" text-anchor="end" font-weight="bold" >15</text>
</g>
<line x1="233.6" y1="338.86" x2="237" y2="338.86" stroke="#000" stroke-width="1.3" stroke-linecap="butt"/>
<g transform="translate(233.1,341.66900000000004) scale(0.91,1)">
<text x="0" y="0" font-size="8.48" text-anchor="end" font-weight="bold" >20</text>
</g>
<line x1="233.6" y1="319.8" x2="237" y2="319.8" stroke="#000" stroke-width="1.3" stroke-linecap="butt"/>
<g transform="translate(233.1,322.60900000000004) scale(0.91,1)">
<text x="0" y="0" font-size="8.48" text-anchor="end" font-weight="bold" >25</text>
</g>
<g transform="translate(217.9,368.05000000000007) rotate(-90) scale(0.9000,1)">
<text x="0" y="0" font-size="11.554" text-anchor="middle" font-weight="bold" style="stroke-width:0.2px">% Cells IFN-<tspan font-weight="normal" font-size="9.5" style="stroke-width:0.1px">γ</tspan><tspan dy="-3.7" dx="0.9" font-size="7.8" style="stroke-width:0.5px">+</tspan></text>
</g>
<line x1="253.25" y1="411.1" x2="253.25" y2="410.1" stroke="#000" stroke-width="1.3" stroke-linecap="butt"/>
<line x1="249.65" y1="410.1" x2="256.85" y2="410.1" stroke="#000" stroke-width="1.3" stroke-linecap="butt"/>
<rect x="247.05" y="411.75" width="12.40" height="3.35" fill="#b2b2b2" stroke="#000" stroke-width="1.3"/>
<line x1="273.15" y1="385.6" x2="273.15" y2="379" stroke="#000" stroke-width="1.3" stroke-linecap="butt"/>
<line x1="269.54999999999995" y1="379" x2="276.75" y2="379" stroke="#000" stroke-width="1.3" stroke-linecap="butt"/>
<rect x="266.95" y="386.25" width="12.40" height="28.85" fill="#000" stroke="#000" stroke-width="1.3"/>
<line x1="292.3" y1="408.4" x2="292.3" y2="406.9" stroke="#000" stroke-width="1.3" stroke-linecap="butt"/>
<line x1="288.7" y1="406.9" x2="295.90000000000003" y2="406.9" stroke="#000" stroke-width="1.3" stroke-linecap="butt"/>
<rect x="286.10" y="409.05" width="12.40" height="6.05" fill="#fff" stroke="#000" stroke-width="1.3"/>
<line x1="285.95" y1="413.0" x2="298.65000000000003" y2="413.0" stroke="#000" stroke-width="1.6" stroke-linecap="butt"/>
<line x1="324.9" y1="408.7" x2="324.9" y2="408" stroke="#000" stroke-width="1.3" stroke-linecap="butt"/>
<line x1="321.29999999999995" y1="408" x2="328.5" y2="408" stroke="#000" stroke-width="1.3" stroke-linecap="butt"/>
<rect x="318.70" y="409.35" width="12.40" height="5.75" fill="#b2b2b2" stroke="#000" stroke-width="1.3"/>
<line x1="344.6" y1="399" x2="344.6" y2="398" stroke="#000" stroke-width="1.3" stroke-linecap="butt"/>
<line x1="341.0" y1="398" x2="348.20000000000005" y2="398" stroke="#000" stroke-width="1.3" stroke-linecap="butt"/>
<rect x="338.40" y="399.65" width="12.40" height="15.45" fill="#000" stroke="#000" stroke-width="1.3"/>
<line x1="364.1" y1="406" x2="364.1" y2="404.4" stroke="#000" stroke-width="1.3" stroke-linecap="butt"/>
<line x1="360.5" y1="404.4" x2="367.70000000000005" y2="404.4" stroke="#000" stroke-width="1.3" stroke-linecap="butt"/>
<rect x="357.90" y="406.65" width="12.40" height="8.45" fill="#fff" stroke="#000" stroke-width="1.3"/>
<line x1="357.75" y1="410.6" x2="370.45000000000005" y2="410.6" stroke="#000" stroke-width="1.6" stroke-linecap="butt"/>
<line x1="236.35" y1="415.1" x2="380" y2="415.1" stroke="#000" stroke-width="1.3" stroke-linecap="butt"/>
<line x1="272.5" y1="415.1" x2="272.5" y2="418.90000000000003" stroke="#000" stroke-width="1.3" stroke-linecap="butt"/>
<text x="272.5" y="428.03200000000004" font-size="9.222" text-anchor="middle" font-weight="bold" style="stroke-width:0.4px">Normal</text>
<text x="272.5" y="438.738" font-size="9.222" text-anchor="middle" font-weight="bold" style="stroke-width:0.4px">(n=20)</text>
<line x1="344.3" y1="415.1" x2="344.3" y2="418.90000000000003" stroke="#000" stroke-width="1.3" stroke-linecap="butt"/>
<text x="344" y="428.03200000000004" font-size="9.222" text-anchor="middle" font-weight="bold" style="stroke-width:0.4px">MDS</text>
<text x="344.3" y="438.738" font-size="9.222" text-anchor="middle" font-weight="bold" style="stroke-width:0.4px">(n=62)</text>
<line x1="251.1" y1="373" x2="272" y2="373" stroke="#000" stroke-width="1.45" stroke-linecap="butt"/>
<line x1="251.1" y1="369.9" x2="251.1" y2="376.1" stroke="#000" stroke-width="1.45" stroke-linecap="butt"/>
<line x1="272" y1="369.9" x2="272" y2="376.1" stroke="#000" stroke-width="1.45" stroke-linecap="butt"/>
<text x="261.45" y="370.1" font-size="8" text-anchor="middle" font-weight="bold" letter-spacing="0.45" style="stroke-width:0.35px">****</text>
<line x1="325.8" y1="392" x2="343.7" y2="392" stroke="#000" stroke-width="1.45" stroke-linecap="butt"/>
<line x1="325.8" y1="388.9" x2="325.8" y2="395.1" stroke="#000" stroke-width="1.45" stroke-linecap="butt"/>
<line x1="343.7" y1="388.9" x2="343.7" y2="395.1" stroke="#000" stroke-width="1.45" stroke-linecap="butt"/>
<text x="335.25" y="389.7" font-size="8" text-anchor="middle" font-weight="bold" letter-spacing="0.45" style="stroke-width:0.35px">***</text>
<line x1="272.6" y1="354.1" x2="343.3" y2="354.1" stroke="#000" stroke-width="1.45" stroke-linecap="butt"/>
<line x1="272.6" y1="351.0" x2="272.6" y2="357.20000000000005" stroke="#000" stroke-width="1.45" stroke-linecap="butt"/>
<line x1="343.3" y1="351.0" x2="343.3" y2="357.20000000000005" stroke="#000" stroke-width="1.45" stroke-linecap="butt"/>
<text x="306.65000000000003" y="351.4" font-size="8" text-anchor="middle" font-weight="bold" letter-spacing="0.45" style="stroke-width:0.35px">**</text>
<rect x="382.15000000000003" y="44.75" width="15.99999999999999" height="10.100000000000001" fill="#b2b2b2" stroke="#000" stroke-width="1.7"/>
<text x="406.3" y="54.8" font-size="14" text-anchor="start" font-weight="bold" textLength="77" lengthAdjust="spacingAndGlyphs" >No Reagent</text>
<rect x="382.15000000000003" y="61.45" width="15.99999999999999" height="10.100000000000001" fill="#000" stroke="#000" stroke-width="1.7"/>
<text x="406.3" y="71.1" font-size="14" text-anchor="start" font-weight="bold" textLength="112" lengthAdjust="spacingAndGlyphs" >CD16xCD33 BiKE</text>
<rect x="382.15000000000003" y="78.14999999999999" width="15.99999999999999" height="10.100000000000001" fill="#fff" stroke="#000" stroke-width="1.7"/>
<line x1="381.8" y1="83.5" x2="398.5" y2="83.5" stroke="#000" stroke-width="1.6" stroke-linecap="butt"/>
<text x="406.3" y="88.5" font-size="14" text-anchor="start" font-weight="bold" textLength="71" lengthAdjust="spacingAndGlyphs" >scFv CD16</text>
</svg>
</body></html>
